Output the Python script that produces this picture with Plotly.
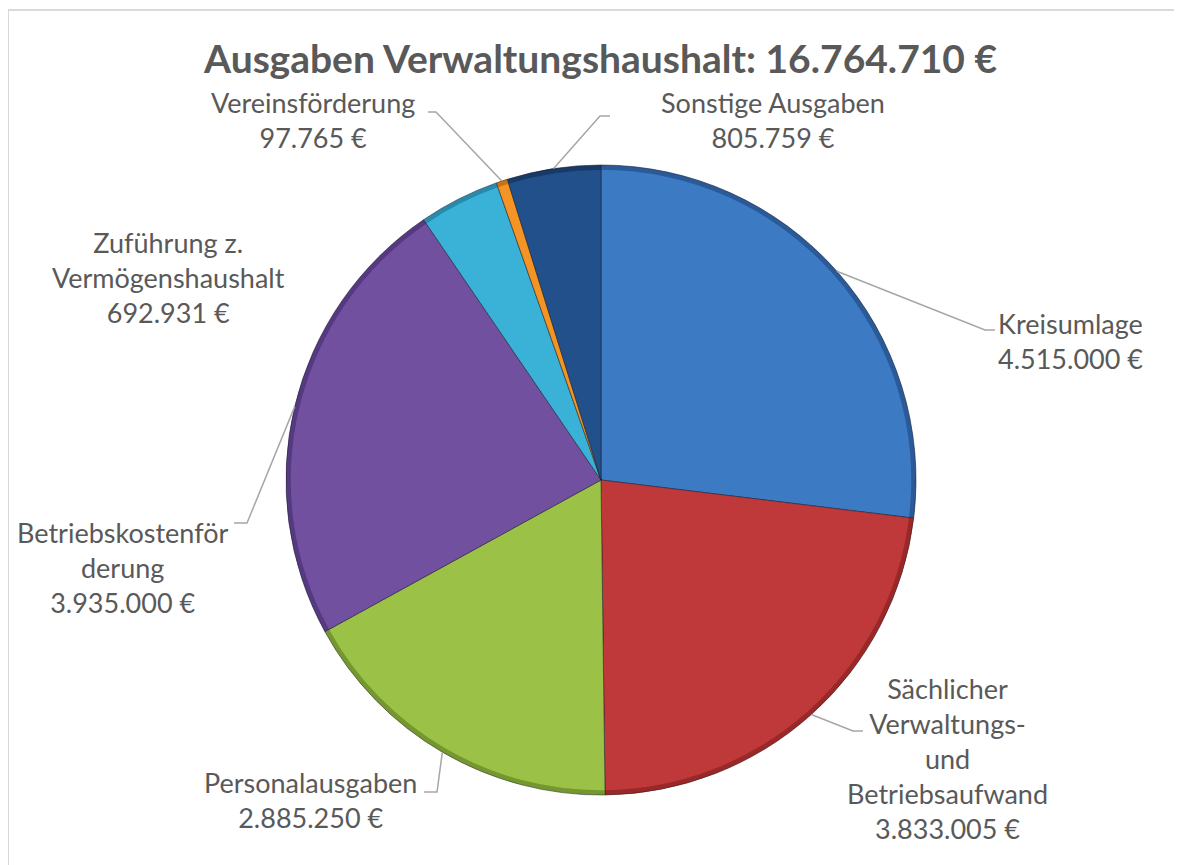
import math
import plotly.graph_objects as go

# ---------------- data ----------------
title_text = "Ausgaben Verwaltungshaushalt: 16.764.710 €"
categories = [
    "Kreisumlage",
    "Sächlicher Verwaltungs- und Betriebsaufwand",
    "Personalausgaben",
    "Betriebskostenförderung",
    "Zuführung z. Vermögenshaushalt",
    "Vereinsförderung",
    "Sonstige Ausgaben",
]
values = [4515000, 3833005, 2885250, 3935000, 692931, 97765, 805759]
label_texts = [
    "Kreisumlage<br>4.515.000 €",
    "Sächlicher<br>Verwaltungs-<br>und<br>Betriebsaufwand<br>3.833.005 €",
    "Personalausgaben<br>2.885.250 €",
    "Betriebskostenför<br>derung<br>3.935.000 €",
    "Zuführung z.<br>Vermögenshaushalt<br>692.931 €",
    "Vereinsförderung<br>97.765 €",
    "Sonstige Ausgaben<br>805.759 €",
]
colors = ["#3D7AC4", "#C0393A", "#9BC247", "#7150A0", "#3AB2D8", "#F39424", "#22508A"]
rim_colors = ["rgba(20,50,100,0.45)", "rgba(110,20,20,0.45)", "rgba(70,100,20,0.45)",
              "rgba(50,30,90,0.45)", "rgba(20,90,120,0.45)", "rgba(150,70,0,0.45)",
              "rgba(10,30,60,0.45)"]

# ---------------- layout (pixels, screen coordinates) ----------------
W, H = 1182, 865
OFF = 8  # page body margin
CX, CY, R = 601, 480, 315
label_pos = [(1070, 341), (947, 758), (310, 800), (122, 567), (168, 278), (313, 120), (773, 120)]
leaders = [
    ((985, 330), (995, 330)),
    ((853, 731), (863, 731)),
    ((437, 792), (424, 792)),
    ((247, 523), (234, 523)),
    None,
    ((436, 112), (428, 112)),
    ((600, 116), (610, 116)),
]

def px(x):
    return (x - OFF) / W

def py(y):
    return 1 - (y - OFF) / H

dom = dict(x=[px(CX - R), px(CX + R)], y=[py(CY + R), py(CY - R)])

fig = go.Figure()
fig.add_trace(go.Pie(
    labels=categories, values=values, sort=False, direction="clockwise", rotation=0,
    textinfo="none", hoverinfo="label+value",
    marker=dict(colors=colors, line=dict(color="rgba(30,30,40,0.55)", width=1)),
    domain=dom, showlegend=False,
))
fig.add_trace(go.Pie(
    labels=categories, values=values, sort=False, direction="clockwise", rotation=0,
    textinfo="none", hoverinfo="skip", hole=0.985,
    marker=dict(colors=rim_colors, line=dict(width=0)),
    domain=dom, showlegend=False,
))

total = sum(values)
shapes = [dict(type="rect", xref="paper", yref="paper",
               x0=px(8), x1=px(1177), y0=-0.05, y1=py(10),
               line=dict(color="#D9D9D9", width=2), fillcolor="rgba(0,0,0,0)", layer="below")]
annotations = []
cum = 0
for v, txt, pos, ld in zip(values, label_texts, label_pos, leaders):
    mid = (cum + v / 2) / total * 2 * math.pi
    cum += v
    sx = CX + R * math.sin(mid)
    sy = CY - R * math.cos(mid)
    if ld is not None:
        (ex, ey), (tx, ty) = ld
        shapes.append(dict(type="path", xref="paper", yref="paper",
                           path=f"M {px(sx)} {py(sy)} L {px(ex)} {py(ey)} L {px(tx)} {py(ty)}",
                           line=dict(color="#A6A6A6", width=1.5)))
    annotations.append(dict(x=px(pos[0]), y=py(pos[1]), xref="paper", yref="paper",
                            text=txt, showarrow=False, xanchor="center", yanchor="middle",
                            align="center", font=dict(family="Lato", size=27, color="#595959")))

annotations.append(dict(x=px(600), y=py(58), xref="paper", yref="paper", text=f"<b>{title_text}</b>",
                        showarrow=False, xanchor="center", yanchor="middle",
                        font=dict(family="Lato", size=39, color="#595959")))

fig.update_layout(
    width=W, height=H,
    margin=dict(l=0, r=0, t=0, b=0),
    paper_bgcolor="white", plot_bgcolor="white",
    shapes=shapes, annotations=annotations,
)
fig.write_html("out.html")
